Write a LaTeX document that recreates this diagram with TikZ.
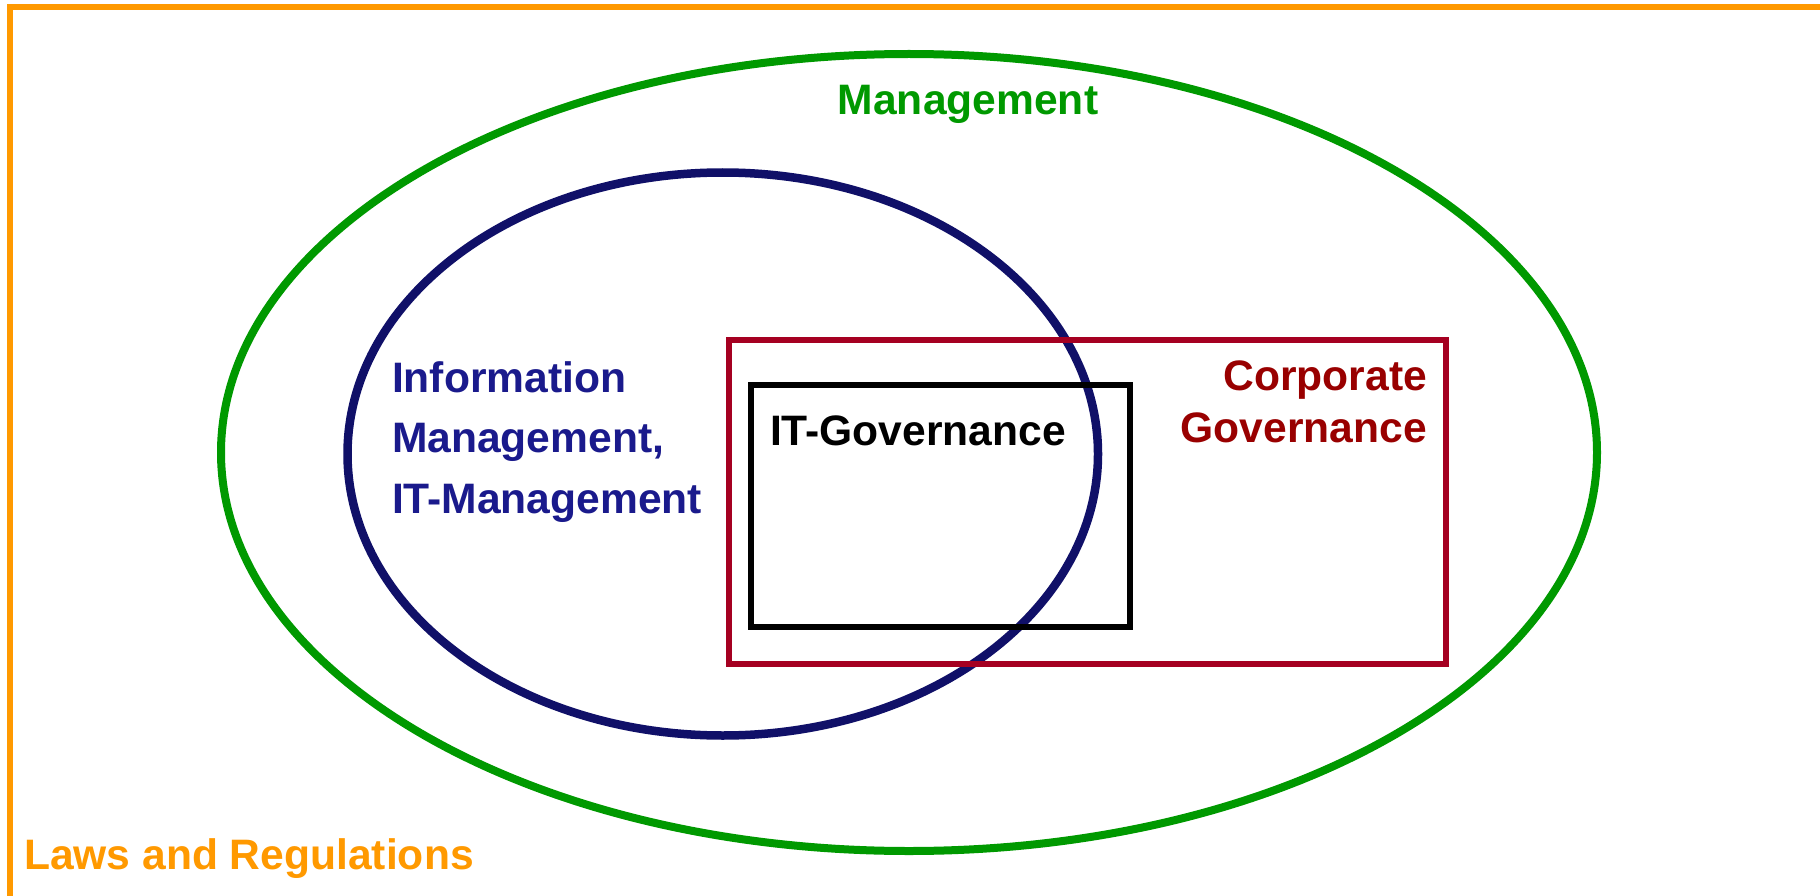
\documentclass[tikz,border=0pt]{standalone}
\usepackage{fontspec}
\setmainfont{Liberation Sans}
\usetikzlibrary{shapes.geometric}
\definecolor{lawsorange}{RGB}{255,153,0}
\definecolor{mgmtgreen}{RGB}{0,153,0}
\definecolor{itnavy}{RGB}{16,16,104}
\definecolor{itblue}{RGB}{26,26,140}
\definecolor{corpred}{RGB}{165,0,33}
\definecolor{corptext}{RGB}{153,0,0}
\tikzset{
  lbl/.style={inner sep=0pt, outer sep=0pt, font=\fontsize{42.6}{50}\selectfont\bfseries},
  area/.style={inner sep=0pt, outer sep=0pt},
}
\begin{document}
\begin{tikzpicture}[x=1pt, y=-1pt]
\useasboundingbox[fill=white] (0,0) rectangle (1820,896);

% outer frame: laws and regulations
\coordinate (lawsbl) at (10,896);
\coordinate (lawstl) at (10,7);
\coordinate (lawstr) at (1820,7);
\draw[lawsorange, line width=6pt, line join=miter] (lawsbl) -- (lawstl) -- (lawstr);

% management
\node[area, ellipse, draw=mgmtgreen, line width=8pt,
      minimum width=1376pt, minimum height=797pt] (mgmt) at (909,452.5) {};

% information / IT management
\node[area, ellipse, draw=itnavy, line width=8.5pt,
      minimum width=750.5pt, minimum height=563pt] (itm) at (722.75,454) {};

% corporate governance
\node[area, rectangle, draw=corpred, line width=6pt,
      minimum width=717pt, minimum height=324pt] (corp) at (1087.5,502) {};

% IT governance
\node[area, rectangle, draw=black, line width=6pt,
      minimum width=378.5pt, minimum height=242pt] (itgov) at (940.25,505.5) {};

% labels
\node[lbl, text=mgmtgreen, anchor=base] (mgmtlbl) at (968,115) {Management};
\node[lbl, text=lawsorange, anchor=base west] (lawslbl) at (24,869) {Laws and Regulations};
\node[lbl, text=itblue, anchor=base west] (itmlbla) at (392,392) {Information};
\node[lbl, text=itblue, anchor=base west] (itmlblb) at (392,452.5) {Management,};
\node[lbl, text=itblue, anchor=base west] (itmlblc) at (392,513) {IT-Management};
\node[lbl, text=black, anchor=base west] (itgovlbl) at (770,445) {IT-Governance};
\node[lbl, text=corptext, anchor=base east] (corplbla) at (1427,390) {Corporate};
\node[lbl, text=corptext, anchor=base east] (corplblb) at (1427,442) {Governance};
\end{tikzpicture}
\end{document}
